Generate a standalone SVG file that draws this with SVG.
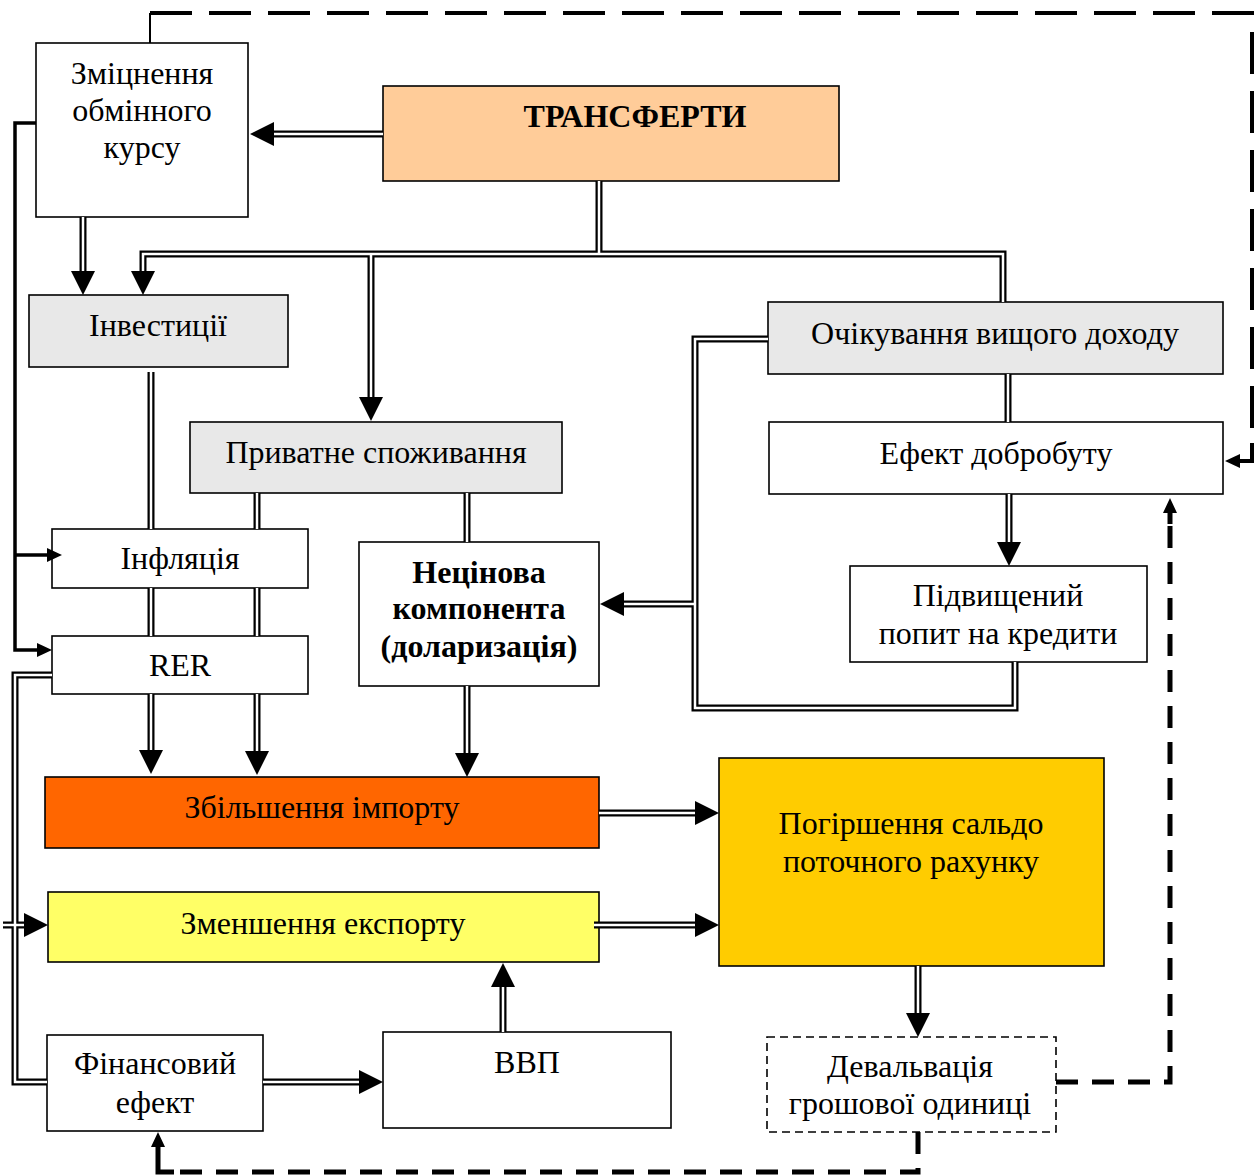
<svg xmlns="http://www.w3.org/2000/svg" width="1255" height="1175" viewBox="0 0 1255 1175">
<defs>
<marker id="ah" markerUnits="userSpaceOnUse" markerWidth="24" markerHeight="24" viewBox="0 0 24 24" refX="0" refY="12" orient="auto"><path d="M0,0L24,12L0,24Z" fill="#000"/></marker>
<marker id="as" markerUnits="userSpaceOnUse" markerWidth="15" markerHeight="14" viewBox="0 0 15 14" refX="0" refY="7" orient="auto"><path d="M0,0L15,7L0,14Z" fill="#000"/></marker>
</defs>
<style>
.box{stroke:#000;stroke-width:1.6}
.w{fill:#fff}
.g{fill:#E8E8E8}
.t{font-family:"Liberation Serif","Times New Roman",serif;font-size:32px;fill:#000;text-anchor:middle}
.b{font-weight:bold}
.o{fill:none;stroke:#000;stroke-width:7}
.i{fill:none;stroke:#fff;stroke-width:2.5}
.s{fill:none;stroke:#000;stroke-width:3.5}
.d1{fill:none;stroke:#000;stroke-width:4;stroke-dasharray:42 17}
.d2{fill:none;stroke:#000;stroke-width:5;stroke-dasharray:22 14}
</style>
<rect width="1255" height="1175" fill="#fff"/>

<g id="n-zmitsnennia"><rect class="box w" x="36" y="43" width="212" height="174"/>
<text class="t" x="142" y="84">Зміцнення</text><text class="t" x="142" y="121">обмінного</text><text class="t" x="142" y="158">курсу</text></g>
<g id="n-transferty"><rect class="box" fill="#FFCC99" x="383" y="86" width="456" height="95"/>
<text class="t b" x="635" y="127">ТРАНСФЕРТИ</text></g>
<g id="n-investytsii"><rect class="box g" x="29" y="295" width="259" height="72"/>
<text class="t" x="158" y="336">Інвестиції</text></g>
<g id="n-spozhyvannia"><rect class="box g" x="190" y="422" width="372" height="71"/>
<text class="t" x="376" y="463">Приватне споживання</text></g>
<g id="n-ochikuvannia"><rect class="box g" x="768" y="302" width="455" height="72"/>
<text class="t" x="995" y="344">Очікування вищого доходу</text></g>
<g id="n-dobrobut"><rect class="box w" x="769" y="422" width="454" height="72"/>
<text class="t" x="996" y="464">Ефект добробуту</text></g>
<g id="n-kredyty"><rect class="box w" x="850" y="566" width="297" height="96"/>
<text class="t" x="998" y="606">Підвищений</text><text class="t" x="998" y="644">попит на кредити</text></g>
<g id="n-infliatsiia"><rect class="box w" x="52" y="529" width="256" height="59"/>
<text class="t" x="180" y="569">Інфляція</text></g>
<g id="n-rer"><rect class="box w" x="52" y="636" width="256" height="58"/>
<text class="t" x="180" y="676">RER</text></g>
<g id="n-netsinova"><rect class="box w" x="359" y="542" width="240" height="144"/>
<text class="t b" x="479" y="583">Нецінова</text><text class="t b" x="479" y="619">компонента</text><text class="t b" x="479" y="657">(доларизація)</text></g>
<g id="n-import"><rect class="box" fill="#FF6600" x="45" y="777" width="554" height="71"/>
<text class="t" x="322" y="818">Збільшення імпорту</text></g>
<g id="n-eksport"><rect class="box" fill="#FFFF66" x="48" y="892" width="551" height="70"/>
<text class="t" x="323" y="934">Зменшення експорту</text></g>
<g id="n-saldo"><rect class="box" fill="#FFCC00" x="719" y="758" width="385" height="208"/>
<text class="t" x="911" y="834">Погіршення сальдо</text><text class="t" x="911" y="872">поточного рахунку</text></g>
<g id="n-finansovyi"><rect class="box w" x="47" y="1035" width="216" height="96"/>
<text class="t" x="155" y="1074">Фінансовий</text><text class="t" x="155" y="1113">ефект</text></g>
<g id="n-vvp"><rect class="box w" x="383" y="1032" width="288" height="96"/>
<text class="t" x="527" y="1073">ВВП</text></g>
<g id="n-devalvatsiia"><rect class="w" x="767" y="1037" width="289" height="95" stroke="#000" stroke-width="1.6" stroke-dasharray="8 5"/>
<text class="t" x="910" y="1077">Девальвація</text><text class="t" x="910" y="1114">грошової одиниці</text></g>

<g id="connectors">
<g class="outer">
<path class="o" d="M383,134L274,134" marker-end="url(#ah)"/>
<path class="o" d="M83,217L83,271" marker-end="url(#ah)"/>
<path class="o" d="M599,181L599,254"/>
<path class="o" d="M1003,302L1003,254L143,254L143,271" marker-end="url(#ah)"/>
<path class="o" d="M371,254L371,397" marker-end="url(#ah)"/>
<path class="o" d="M151,372L151,529"/>
<path class="o" d="M151,588L151,636"/>
<path class="o" d="M151,694L151,750" marker-end="url(#ah)"/>
<path class="o" d="M257,493L257,529"/>
<path class="o" d="M257,588L257,636"/>
<path class="o" d="M257,694L257,751" marker-end="url(#ah)"/>
<path class="o" d="M467,493L467,542"/>
<path class="o" d="M467,686L467,753" marker-end="url(#ah)"/>
<path class="o" d="M1008,374L1008,422"/>
<path class="o" d="M1009,494L1009,542" marker-end="url(#ah)"/>
<path class="o" d="M1015,662L1015,708L695,708L695,339L768,339"/>
<path class="o" d="M695,604L624,604" marker-end="url(#ah)"/>
<path class="o" d="M599,813L695,813" marker-end="url(#ah)"/>
<path class="o" d="M594,925L695,925" marker-end="url(#ah)"/>
<path class="o" d="M918,966L918,1013" marker-end="url(#ah)"/>
<path class="o" d="M52,675L15,675L15,1082L47,1082"/>
<path class="o" d="M3,925L24,925" marker-end="url(#ah)"/>
<path class="o" d="M263,1082L359,1082" marker-end="url(#ah)"/>
<path class="o" d="M503,1032L503,987" marker-end="url(#ah)"/>
</g>
<g class="inner">
<path class="i" d="M383,134L274,134"/>
<path class="i" d="M83,217L83,271"/>
<path class="i" d="M599,181L599,254"/>
<path class="i" d="M1003,302L1003,254L143,254L143,271"/>
<path class="i" d="M371,254L371,397"/>
<path class="i" d="M151,372L151,529"/>
<path class="i" d="M151,588L151,636"/>
<path class="i" d="M151,694L151,750"/>
<path class="i" d="M257,493L257,529"/>
<path class="i" d="M257,588L257,636"/>
<path class="i" d="M257,694L257,751"/>
<path class="i" d="M467,493L467,542"/>
<path class="i" d="M467,686L467,753"/>
<path class="i" d="M1008,374L1008,422"/>
<path class="i" d="M1009,494L1009,542"/>
<path class="i" d="M1015,662L1015,708L695,708L695,339L768,339"/>
<path class="i" d="M695,604L624,604"/>
<path class="i" d="M599,813L695,813"/>
<path class="i" d="M594,925L695,925"/>
<path class="i" d="M918,966L918,1013"/>
<path class="i" d="M52,675L15,675L15,1082L47,1082"/>
<path class="i" d="M3,925L24,925"/>
<path class="i" d="M263,1082L359,1082"/>
<path class="i" d="M503,1032L503,987"/>
</g>
<path class="s" d="M36,123L15,123L15,650L37,650" marker-end="url(#as)"/>
<path class="s" d="M15,555L47,555" marker-end="url(#as)"/>
<path fill="none" stroke="#000" stroke-width="2" d="M150,43L150,13"/>
<path class="d1" d="M150,13L1252,13L1252,445"/>
<path fill="none" stroke="#000" stroke-width="4" d="M1252,443L1252,461L1240,461" marker-end="url(#as)"/>
<path class="d2" d="M1056,1082L1170,1082L1170,522"/>
<path fill="none" stroke="#000" stroke-width="5" d="M1170,524L1170,513" marker-end="url(#as)"/>
<path class="d2" d="M918,1132L918,1172L172,1172"/>
<path fill="none" stroke="#000" stroke-width="5" d="M174,1172L158,1172L158,1147" marker-end="url(#as)"/>
</g>
</svg>
